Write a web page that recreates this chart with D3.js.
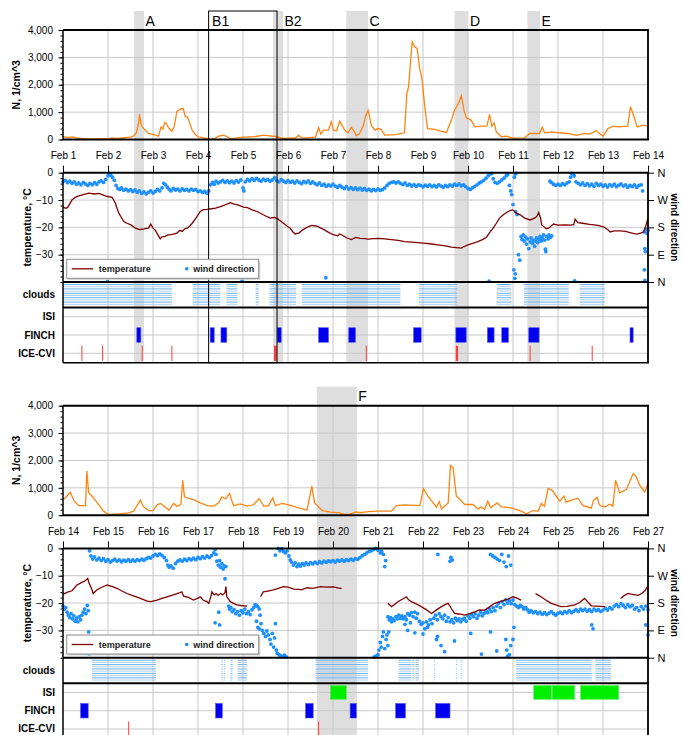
<!DOCTYPE html>
<html>
<head>
<meta charset="utf-8">
<script src="https://cdn.jsdelivr.net/npm/d3@7"></script>
<style>
  body { margin: 0; background: #fff; }
  text { font-family: "Liberation Sans", Arial, sans-serif; }
</style>
</head>
<body>
<div id="chart"></div>
<script>
// ---- data (day of February, value) ----
const n1 = [[1.0,100],[1.1,80],[1.22,95],[1.3,60],[1.45,30],[1.6,15],[1.83,20],[2.0,25],[2.1,60],[2.2,40],[2.3,55],[2.42,75],[2.5,90],[2.57,130],[2.63,250],[2.68,600],[2.70,920],[2.73,600],[2.76,460],[2.83,340],[2.9,220],[3.05,160],[3.12,120],[3.18,460],[3.22,380],[3.26,620],[3.3,560],[3.36,400],[3.42,300],[3.47,460],[3.53,1020],[3.6,1110],[3.67,1130],[3.72,830],[3.76,830],[3.8,680],[3.87,340],[3.95,160],[4.01,100],[4.12,60],[4.24,10],[4.35,20],[4.46,120],[4.57,160],[4.65,100],[4.73,25],[4.87,60],[5.0,90],[5.24,100],[5.46,160],[5.6,130],[5.76,100],[5.87,40],[6.05,50],[6.16,50],[6.24,150],[6.3,70],[6.38,60],[6.5,75],[6.61,90],[6.68,430],[6.73,200],[6.79,340],[6.9,340],[6.96,650],[7.01,340],[7.08,320],[7.15,670],[7.185,560],[7.26,340],[7.33,245],[7.41,440],[7.47,300],[7.52,135],[7.59,220],[7.67,490],[7.72,830],[7.78,1070],[7.85,525],[7.93,340],[8.0,400],[8.07,370],[8.15,160],[8.4,180],[8.59,245],[8.64,1680],[8.68,1930],[8.72,2780],[8.76,3570],[8.81,3390],[8.87,3330],[8.92,2660],[8.98,2170],[9.04,1200],[9.1,400],[9.26,370],[9.41,300],[9.52,260],[9.63,700],[9.70,1070],[9.79,1320],[9.85,1600],[9.91,1070],[9.96,800],[10.07,700],[10.15,460],[10.3,490],[10.42,490],[10.48,915],[10.53,490],[10.58,610],[10.63,280],[10.74,100],[10.85,120],[11.0,50],[11.26,60],[11.37,220],[11.59,220],[11.65,460],[11.7,245],[11.85,270],[12.22,220],[12.41,150],[12.6,220],[12.7,200],[12.85,320],[13.0,120],[13.11,400],[13.22,490],[13.33,460],[13.55,490],[13.61,1200],[13.69,830],[13.76,460],[13.89,525],[14.0,490]];

const n2 = [[14.0,570],[14.05,630],[14.16,840],[14.25,510],[14.35,350],[14.46,350],[14.5,350],[14.53,1610],[14.57,820],[14.68,630],[14.79,390],[14.9,150],[15.01,25],[15.24,50],[15.46,85],[15.57,150],[15.72,550],[15.78,330],[15.9,170],[16.0,170],[16.1,390],[16.17,430],[16.27,300],[16.35,180],[16.46,430],[16.53,330],[16.62,390],[16.66,1270],[16.7,670],[16.79,610],[16.9,570],[17.05,450],[17.2,350],[17.35,330],[17.46,450],[17.53,670],[17.61,600],[17.7,790],[17.79,350],[17.94,415],[18.09,330],[18.24,390],[18.36,610],[18.46,330],[18.57,350],[18.66,630],[18.72,350],[18.87,430],[19.01,380],[19.2,290],[19.42,180],[19.53,1060],[19.59,450],[19.68,300],[19.76,170],[19.94,110],[20.16,85],[20.185,50],[20.33,25],[20.52,120],[20.6,90],[20.78,130],[21.0,150],[21.3,150],[21.41,350],[21.59,380],[21.93,350],[22.01,970],[22.11,700],[22.3,290],[22.36,500],[22.41,230],[22.56,450],[22.61,1820],[22.67,1730],[22.74,700],[22.93,390],[23.11,390],[23.22,230],[23.3,300],[23.37,210],[23.44,510],[23.5,270],[23.65,450],[23.74,300],[23.96,270],[24.18,150],[24.3,50],[24.44,170],[24.56,150],[24.63,430],[24.7,330],[24.78,980],[24.87,910],[25.04,510],[25.13,700],[25.18,480],[25.3,550],[25.44,620],[25.56,350],[25.74,260],[25.79,550],[25.87,650],[25.92,370],[26.04,300],[26.15,400],[26.22,330],[26.28,1280],[26.37,820],[26.52,940],[26.67,1520],[26.74,1400],[26.81,1110],[26.93,840],[27.0,1180]];

const temp1 = [[1.0,-12.4],[1.05,-13],[1.1,-12.8],[1.15,-11.4],[1.2,-10],[1.27,-9],[1.35,-8.5],[1.45,-8],[1.57,-7.5],[1.7,-7.8],[1.8,-7.6],[1.94,-8.5],[2.02,-8.8],[2.09,-9],[2.16,-11],[2.2,-13],[2.24,-14.8],[2.3,-16.5],[2.35,-17.9],[2.42,-18.5],[2.5,-19],[2.61,-20.3],[2.7,-20.8],[2.76,-20.7],[2.85,-20.4],[2.9,-20.3],[2.95,-18.8],[3.0,-20.3],[3.05,-21],[3.1,-22.5],[3.16,-24.2],[3.2,-23.5],[3.27,-23.3],[3.33,-22.8],[3.39,-22.7],[3.45,-22.5],[3.53,-22.1],[3.6,-21.1],[3.65,-21.5],[3.7,-20.6],[3.76,-20.3],[3.82,-19.5],[3.87,-18.5],[3.93,-17.2],[3.98,-16],[4.05,-14.2],[4.12,-13.5],[4.2,-13.4],[4.3,-13.2],[4.39,-13],[4.5,-12.4],[4.6,-11.8],[4.72,-11],[4.8,-11.5],[4.88,-11.8],[5.01,-12.6],[5.1,-12.8],[5.2,-13.6],[5.31,-14.2],[5.45,-15.4],[5.55,-16.2],[5.61,-16.6],[5.7,-16.4],[5.76,-16.8],[5.82,-17.5],[5.9,-18.5],[6.0,-19.8],[6.05,-20.3],[6.1,-21.5],[6.16,-22.4],[6.25,-22],[6.32,-21],[6.39,-20.3],[6.47,-19.6],[6.53,-19.3],[6.63,-19.5],[6.72,-20.2],[6.83,-21.1],[6.92,-22],[7.01,-22.7],[7.1,-23.1],[7.15,-22.4],[7.19,-22.7],[7.3,-23.8],[7.41,-24.5],[7.5,-23.7],[7.6,-24],[7.7,-24.1],[7.78,-24.3],[7.9,-24.1],[8.0,-24],[8.15,-24.2],[8.3,-24.5],[8.45,-24.8],[8.59,-25.2],[8.75,-25.4],[9.0,-25.8],[9.15,-26],[9.33,-26.4],[9.5,-26.8],[9.63,-27.2],[9.75,-27.4],[9.85,-27.6],[9.92,-27],[10.0,-26.4],[10.1,-25.9],[10.22,-25.2],[10.32,-24.5],[10.41,-23.6],[10.5,-21.5],[10.56,-20.3],[10.63,-18.5],[10.7,-16.6],[10.8,-15.2],[10.89,-14.2],[10.95,-13.8],[11.0,-13.6],[11.07,-14.8],[11.16,-15.4],[11.26,-16.6],[11.38,-17.3],[11.48,-16.6],[11.53,-16],[11.57,-14.6],[11.61,-16.5],[11.64,-19.1],[11.74,-20.5],[11.79,-20.3],[11.9,-18.8],[12.0,-19.2],[12.15,-19.1],[12.27,-19.2],[12.35,-19],[12.38,-17],[12.44,-18.3],[12.55,-18.5],[12.7,-18.9],[12.89,-19.3],[13.01,-19.8],[13.1,-20.8],[13.16,-21.7],[13.25,-21.3],[13.38,-21.3],[13.5,-21.5],[13.62,-22],[13.75,-22.5],[13.85,-22],[13.9,-21.7],[13.95,-19.5],[14.0,-16.6]];

const temp2 = [[14.0,-16.8],[14.1,-16],[14.2,-15.5],[14.31,-13.4],[14.4,-12.6],[14.48,-12],[14.55,-11],[14.58,-12.8],[14.63,-14.5],[14.67,-16.5],[14.75,-15.2],[14.85,-14.3],[14.98,-13.4],[15.1,-14],[15.2,-14.6],[15.3,-15.5],[15.42,-16.5],[15.55,-17.3],[15.72,-18.3],[15.87,-19.3],[15.95,-19.5],[16.09,-18.9],[16.2,-18.3],[16.31,-17.7],[16.45,-17],[16.6,-16.2],[16.64,-15.9],[16.68,-17.5],[16.8,-18],[16.9,-18.9],[17.0,-18.2],[17.05,-17.7],[17.12,-19],[17.2,-19.5],[17.24,-20.1],[17.28,-18],[17.31,-15.9],[17.36,-17],[17.4,-16.5],[17.45,-17.2],[17.5,-16.5],[17.55,-17],[17.6,-16.2],[17.62,-14],[17.64,-17.7],[17.72,-19.5],[17.8,-20.2],[17.87,-20.7],[17.95,-20.9],[18.09,-21.1],[18.2,null],[18.39,-17.7],[18.45,-15.9],[18.55,-15.6],[18.68,-15.2],[18.8,-14.5],[18.9,-14],[19.0,-14.2],[19.13,-14.9],[19.25,-15],[19.3,-15.2],[19.42,-14.4],[19.55,-14.6],[19.72,-14],[19.85,-14.2],[20.01,-14.1],[20.16,-14.6],[20.19,-14.6],[20.7,null],[21.22,-20.1],[21.3,-21.3],[21.37,-20.5],[21.44,-19.5],[21.55,-18.5],[21.63,-17.7],[21.68,-18.8],[21.74,-19.5],[21.85,-20.3],[21.96,-21.3],[22.08,-22.5],[22.19,-23.8],[22.3,-22.5],[22.41,-21.3],[22.5,-20.5],[22.56,-20.1],[22.63,-22],[22.7,-23.8],[22.8,-24],[22.93,-24.4],[23.05,-23.8],[23.15,-23.2],[23.25,-22.5],[23.37,-22.6],[23.47,-21.5],[23.59,-20.1],[23.7,-19.6],[23.81,-18.9],[23.9,-18.5],[24.0,-17.7],[24.1,-18.3],[24.18,-18.9],[24.3,null],[24.5,-16.5],[24.55,-17],[24.62,-17.7],[24.72,-18.8],[24.85,-20.1],[24.95,-20.7],[25.07,-21.3],[25.2,-21.2],[25.37,-20.7],[25.48,-19.8],[25.59,-18.3],[25.66,-19.5],[25.74,-21],[25.85,-21.1],[25.95,-21.2],[26.04,-21.3],[26.2,null],[26.39,-18.3],[26.47,-17.3],[26.56,-16.5],[26.65,-16.8],[26.78,-17.2],[26.86,-16.5],[26.93,-15.5],[27.0,-13.7]];

// wind direction in degrees (0 = N at bottom, 360 = N at top)
const wind1 = [[1.00,330],[1.05,335],[1.10,327],[1.15,332],[1.20,325],[1.25,330],[1.30,322],[1.35,326],[1.40,320],[1.45,328],[1.50,323],[1.55,318],[1.60,325],[1.65,320],[1.70,327],[1.75,322],[1.80,330],[1.85,333],[1.90,328],[1.95,338],[2.00,350],[2.03,358],[2.06,352],[2.10,345],[2.14,335],[2.18,318],[2.22,308],[2.26,305],[2.30,310],[2.35,302],[2.40,306],[2.45,300],[2.50,304],[2.55,298],[2.60,303],[2.65,296],[2.70,300],[2.75,292],[2.80,297],[2.85,290],[2.90,296],[2.95,300],[3.00,293],[3.05,298],[3.10,305],[3.15,300],[3.20,310],[3.24,325],[3.28,320],[3.32,312],[3.36,305],[3.40,300],[3.45,308],[3.50,303],[3.55,306],[3.60,300],[3.65,307],[3.70,302],[3.75,305],[3.80,300],[3.85,306],[3.90,302],[3.95,305],[4.00,298],[4.05,300],[4.10,295],[4.15,298],[4.20,292],[4.24,300],[4.28,320],[4.32,328],[4.36,322],[4.40,332],[4.45,326],[4.50,330],[4.55,335],[4.60,328],[4.65,333],[4.70,327],[4.75,332],[4.80,326],[4.85,334],[4.90,329],[4.95,336],[5.00,310],[5.02,300],[5.05,330],[5.10,338],[5.15,333],[5.20,340],[5.25,335],[5.30,341],[5.35,336],[5.40,332],[5.45,339],[5.50,334],[5.55,338],[5.60,332],[5.65,336],[5.70,343],[5.75,334],[5.80,330],[5.85,337],[5.90,332],[5.95,328],[6.00,334],[6.05,328],[6.10,332],[6.15,326],[6.20,333],[6.25,328],[6.30,324],[6.35,331],[6.40,327],[6.45,333],[6.50,325],[6.55,330],[6.60,324],[6.65,320],[6.70,326],[6.75,318],[6.80,322],[6.85,315],[6.90,320],[6.95,316],[7.00,322],[7.05,316],[7.10,312],[7.15,318],[1.99,3],[4.98,5],[6.84,14],
  [7.20,312],[7.25,308],[7.30,314],[7.35,306],[7.40,311],[7.45,305],[7.50,310],[7.55,304],[7.60,309],[7.65,303],[7.70,308],[7.75,302],[7.80,306],[7.85,300],[7.90,305],[7.95,301],[8.00,307],[8.05,302],[8.10,304],[8.15,310],[8.20,318],[8.25,325],[8.30,328],[8.35,330],[8.40,326],[8.45,330],[8.50,325],[8.55,321],[8.60,326],[8.65,318],[8.70,322],[8.75,316],[8.80,321],[8.85,315],[8.90,320],[8.95,318],[9.00,313],[9.05,319],[9.10,315],[9.15,320],[9.20,314],[9.25,318],[9.30,313],[9.35,320],[9.40,316],[9.45,312],[9.50,318],[9.55,314],[9.60,320],[9.65,316],[9.70,322],[9.75,318],[9.80,323],[9.85,317],[9.90,320],[9.95,314],[10.00,308],[10.05,305],[10.10,310],[10.15,315],[10.20,320],[10.25,326],[10.30,330],[10.35,335],[10.40,342],[10.45,350],[10.50,356],[10.53,358],[10.56,340],[10.60,328],[10.65,325],[10.70,330],[10.75,336],[10.80,342],[10.85,350],[10.88,354],[10.92,318],[10.95,300],[10.97,288],[11.00,255],[11.03,345],[11.05,356],[11.07,358],[11.06,232],[11.09,222],[11.02,40],[11.05,27],[11.04,12],[11.12,90],[11.15,72],[10.47,3],[12.37,4],
  [11.18,150],[11.20,140],[11.23,155],[11.25,135],[11.28,148],[11.30,125],[11.32,142],[11.35,110],[11.38,132],[11.40,145],[11.43,128],[11.45,138],[11.48,118],[11.50,135],[11.52,145],[11.55,130],[11.58,140],[11.60,150],[11.63,135],[11.65,145],[11.68,155],[11.70,138],[11.72,108],[11.73,100],[11.75,150],[11.78,142],[11.80,155],[11.83,147],[11.86,152],
  [11.82,332],[11.85,328],[11.90,322],[11.95,318],[12.00,322],[12.05,318],[12.10,324],[12.15,320],[12.20,326],[12.25,330],[12.28,345],[12.30,358],[12.33,355],[12.36,350],[12.40,330],[12.45,325],[12.50,320],[12.55,326],[12.60,318],[12.65,324],[12.70,317],[12.75,322],[12.80,315],[12.85,325],[12.90,318],[12.95,322],[13.00,315],[13.05,320],[13.10,313],[13.15,321],[13.20,316],[13.25,322],[13.30,314],[13.35,319],[13.40,323],[13.45,316],[13.50,320],[13.55,312],[13.60,318],[13.65,314],[13.70,320],[13.75,312],[13.80,318],[13.85,320],[13.88,300],[13.92,165],[13.95,175],[13.98,160],[14.00,170],[13.93,110],[13.94,100],[13.92,40],[13.93,5]];

const wind2 = [[14.00,170],[14.03,160],[14.06,165],[14.09,150],[14.12,140],[14.15,132],[14.18,145],[14.21,128],[14.24,138],[14.27,120],[14.30,130],[14.33,118],[14.36,135],[14.39,125],[14.42,140],[14.45,150],[14.48,160],[14.51,145],[14.54,172],[14.56,155],[14.57,85],[14.58,12],[14.59,352],[14.62,335],[14.66,325],[14.70,332],[14.75,322],[14.80,328],[14.85,320],[14.90,326],[14.95,318],[15.00,323],[15.05,315],[15.10,320],[15.15,325],[15.20,318],[15.25,322],[15.30,316],[15.35,321],[15.40,318],[15.45,323],[15.50,317],[15.55,322],[15.60,318],[15.65,323],[15.70,320],[15.75,325],[15.80,321],[15.85,326],[15.90,330],[15.95,328],[16.00,335],[16.05,340],[16.10,336],[16.15,342],[16.20,337],[16.25,330],[16.30,320],[16.33,305],[16.36,298],[16.40,302],[16.45,295],[16.50,310],[16.55,318],[16.60,322],[16.65,318],[16.70,325],[16.75,320],[16.80,326],[16.85,322],[16.90,328],[16.95,323],[17.00,330],[17.05,326],[17.10,333],[17.15,328],[17.20,335],[17.25,330],[17.30,336],[17.35,345],[17.38,356],[17.40,340],[17.42,318],[17.45,305],[17.48,320],[17.50,298],[17.53,310],[17.56,292],[17.58,302],[17.60,260],[17.62,300],[17.38,115],[17.46,150],[17.48,108],
  [17.68,170],[17.70,160],[17.73,165],[17.76,152],[17.80,158],[17.84,145],[17.88,152],[17.92,140],[17.96,155],[18.00,148],[18.04,160],[18.08,145],[18.12,152],[18.16,142],[18.20,158],[18.24,165],[18.27,175],[18.30,172],[18.33,168],[18.36,160],[18.38,140],[18.30,120],[18.33,100],[18.36,95],[18.40,112],[18.43,90],[18.46,80],[18.50,70],[18.53,88],[18.56,75],[18.60,60],[18.62,45],[18.65,80],[18.68,35],[18.70,65],[18.72,112],[18.74,25],[18.76,14],[18.80,10],[18.84,6],[18.88,4],[18.92,8],[18.96,3],
  [18.72,338],[18.78,360],[18.82,352],[18.86,358],[18.90,350],[18.94,345],[18.98,352],[19.02,335],[19.05,322],[19.08,315],[19.12,305],[19.16,312],[19.20,300],[19.24,308],[19.28,302],[19.32,310],[19.36,305],[19.40,312],[19.45,307],[19.50,313],[19.55,309],[19.60,315],[19.65,310],[19.70,316],[19.75,312],[19.80,318],[19.85,314],[19.90,319],[19.95,316],[20.00,320],[20.05,315],[20.10,321],[20.15,318],[20.20,322],[20.25,318],[20.30,323],[20.35,320],[20.40,325],[20.45,321],[20.50,326],[20.55,324],[20.60,330],[20.65,336],[20.70,340],[20.75,345],[20.80,350],[20.85,352],[20.90,356],[20.95,360],[21.00,354],[21.05,345],[21.08,350],[21.12,340],[21.15,300],[21.17,320],
  [20.92,3],[20.95,5],[21.00,10],[21.02,25],[21.05,50],[21.07,35],[21.10,70],[21.12,85],
  [21.22,135],[21.25,125],[21.28,132],[21.30,118],[21.33,128],[21.36,122],[21.40,135],[21.43,128],[21.46,140],[21.50,130],[21.53,138],[21.56,128],[21.60,135],[21.63,125],[21.66,145],[21.70,140],[21.72,115],[21.74,148],[21.78,135],[21.82,150],[21.85,130],[21.88,145],[21.92,120],[21.96,110],[22.00,115],[22.04,95],[22.08,118],[22.12,108],[22.16,125],[22.20,112],[22.24,130],[22.28,140],[22.32,125],[22.36,145],[22.40,135],[22.44,128],[22.48,140],[22.52,120],[22.56,132],[22.60,118],[22.64,125],[22.68,115],[22.72,130],[22.76,122],[22.80,128],[22.84,118],[22.88,126],[22.92,130],[22.96,120],[23.00,138],[23.04,130],[23.08,142],[23.12,135],[23.16,145],[23.20,130],[23.24,140],[23.28,150],[23.32,138],[23.36,146],[23.40,155],[23.44,148],[23.48,160],[23.52,152],[23.56,165],[23.60,155],[23.64,170],[23.68,180],[23.72,165],[23.76,185],[23.80,175],[23.84,190],[23.88,180],[23.92,188],[23.96,178],[24.00,190],[24.04,175],[24.08,170],[24.12,165],[24.16,172],[24.20,168],[24.24,160],[24.28,165],[24.32,158],[24.36,150],[24.40,155],[24.45,148],[24.50,152],[24.55,145],[24.60,150],[24.65,143],[24.70,148],[24.75,142],[24.80,147],[24.85,152],[24.90,145],[24.95,140],[25.00,146],[25.05,150],[25.10,145],[25.15,152],[25.20,148],[25.25,155],[25.30,148],[25.35,153],[25.40,158],[25.45,152],[25.50,160],[25.55,155],[25.60,160],[25.65,153],[25.70,158],[25.75,152],[25.80,160],[25.85,155],[25.90,158],[25.95,152],[26.00,157],[26.05,163],[26.10,157],[26.15,165],[26.20,160],[26.25,170],[26.30,175],[26.35,168],[26.40,178],[26.45,172],[26.50,165],[26.55,175],[26.60,168],[26.65,172],[26.70,160],[26.75,165],[26.80,155],[26.85,168],[26.90,160],[26.95,170],[27.00,158],
  [21.24,85],[21.20,75],[21.18,60],[21.22,40],[21.15,30],[21.60,110],[21.66,90],[21.82,82],[22.00,78],[22.10,100],[22.30,60],[22.32,70],[22.40,40],[22.48,20],[22.70,55],[23.06,80],[23.30,12],[23.50,85],[23.64,22],[23.84,60],[23.86,25],[23.88,5],[23.92,10],[23.95,40],[24.00,60],[24.02,100],[25.75,108],[25.78,95],[26.95,108],[27.00,75],
  [22.33,340],[22.62,330],[22.65,322],[22.60,318],[23.50,340],[23.55,335],[23.60,330],[23.65,325],[23.70,320],[23.75,340],[23.80,315],[23.85,300],[23.90,335],[23.95,305]];

// observation periods [from, to]
const clouds1 = [[1.0,3.42],[3.88,4.5],[4.63,4.88],[5.28,5.35],[5.59,6.18],[6.31,8.5],[8.91,9.76],[10.64,10.96],[11.24,12.24],[12.48,13.04]];
const clouds2 = [[14.64,16.07],[17.52,17.55],[17.58,17.6],[17.72,17.77],[17.88,18.09],[19.61,20.78],[21.46,21.74],[21.76,21.8],[21.83,21.91],[22.24,22.25],[22.74,22.76],[22.85,22.87],[24.07,25.75],[25.83,26.18]];
const isi1 = [];
const isi2 = [[19.94,20.3],[24.46,24.85],[24.87,25.37],[25.5,26.35]];
const finch1 = [[2.64,2.73],[4.27,4.36],[4.51,4.64],[5.76,5.85],[6.68,6.9],[7.35,7.5],[8.79,8.96],[9.73,9.96],[10.43,10.58],[10.75,10.9],[11.35,11.58],[13.6,13.67]];
const finch2 = [[14.39,14.56],[17.39,17.54],[19.39,19.56],[20.38,20.52],[21.39,21.61],[22.28,22.6]];
const ice1 = [[1.42,1.42],[1.88,1.88],[2.76,2.76],[3.42,3.42],[5.70,5.76],[7.74,7.74],[9.74,9.79],[11.38,11.38],[12.76,12.76]];
const ice2 = [[15.46,15.46],[19.68,19.7]];

// case periods
const bandLabels1 = ["A","B2","C","D","E"];
const bandSpans1 = [[2.58,2.8],[5.667,5.889],[7.296,7.778],[9.70,10.01],[11.32,11.6]];
const boxLabels1 = ["B1"];
const boxSpans1 = [[4.236,5.756]];
const bandLabels2 = ["F"];
const bandSpans2 = [[19.64,20.53]];

const nTicks = [0,1000,2000,3000,4000];
const tempTicks = [0,-10,-20,-30];
const windTicks = [0,90,180,270,360];
const windTickLabels = ["N","E","S","W","N"];
const rowNames = ["ISI","FINCH","ICE-CVI"];

// ---- layout ----
const svgWidth = 682, svgHeight = 735;
const lay = {xL: 63, xR: 648, bandTop: 11, nTop: 30, nBot: 139.5, tTop: 172.7, tBot: 282, cBot: 307.5, iBot: 362.7};
const rowY = [316.7, 335, 353.3];
const gridColor = "#c8c8c8";

const svg = d3.select("#chart").append("svg")
  .attr("width", svgWidth)
  .attr("height", svgHeight);

function drawFigure(offset, f) {
  const g = svg.append("g").attr("transform", `translate(0, ${offset})`);
  const x = d3.scaleLinear().domain([f.start, f.start + 13]).range([lay.xL, lay.xR]);
  const yN = d3.scaleLinear().domain([0, 4000]).range([lay.nBot, lay.nTop]);
  const yT = d3.scaleLinear().domain([-40, 0]).range([lay.tBot, lay.tTop]);
  const yW = d3.scaleLinear().domain([0, 360]).range([lay.tBot, lay.tTop]);
  const days = d3.range(f.start, f.start + 14);

  // shaded case periods
  g.selectAll(".band").data(f.bandSpans).enter().append("rect")
    .attr("x", d => x(d[0]))
    .attr("width", d => x(d[1]) - x(d[0]))
    .attr("y", lay.bandTop)
    .attr("height", lay.iBot - lay.bandTop)
    .attr("fill", "#dedede");

  // grid
  const grid = g.append("g").attr("stroke", gridColor).attr("stroke-width", 1);
  days.slice(1, -1).forEach(d => {
    grid.append("line").attr("x1", x(d)).attr("x2", x(d)).attr("y1", lay.nTop).attr("y2", lay.nBot);
    grid.append("line").attr("x1", x(d)).attr("x2", x(d)).attr("y1", lay.tTop).attr("y2", lay.iBot);
  });
  [1000, 2000, 3000].forEach(v => grid.append("line").attr("x1", lay.xL).attr("x2", lay.xR).attr("y1", yN(v)).attr("y2", yN(v)));
  [-10, -20, -30].forEach(v => grid.append("line").attr("x1", lay.xL).attr("x2", lay.xR).attr("y1", yT(v)).attr("y2", yT(v)));
  rowY.forEach(y => grid.append("line").attr("x1", lay.xL).attr("x2", lay.xR).attr("y1", y).attr("y2", y));

  // clouds as stripes
  const stripes = d3.range(lay.tBot + 2.5, lay.cBot - 1.5, 2.2);
  const cg = g.append("g");
  f.clouds.forEach(c => {
    stripes.forEach((y, i) => {
      cg.append("line")
        .attr("x1", x(c[0])).attr("x2", Math.max(x(c[1]), x(c[0]) + 1))
        .attr("y1", y).attr("y2", y)
        .attr("stroke", i % 2 ? "#aad0f4" : "#6fb0ec")
        .attr("stroke-width", 1);
    });
  });

  // instruments
  g.selectAll(".isi").data(f.isi).enter().append("rect")
    .attr("x", d => x(d[0])).attr("width", d => x(d[1]) - x(d[0]))
    .attr("y", rowY[0] - 7).attr("height", 14)
    .attr("fill", "#00ee00").attr("stroke", "#66f066").attr("stroke-width", 0.6);
  g.selectAll(".finch").data(f.finch).enter().append("rect")
    .attr("x", d => x(d[0])).attr("width", d => x(d[1]) - x(d[0]))
    .attr("y", rowY[1] - 7.3).attr("height", 14.6)
    .attr("fill", "#0000ee").attr("stroke", "#5a5af0").attr("stroke-width", 0.6);
  g.selectAll(".ice").data(f.ice).enter().append("rect")
    .attr("x", d => x(d[0]) - 0.5).attr("width", d => Math.max(1, x(d[1]) - x(d[0])))
    .attr("y", rowY[2] - 7.6).attr("height", 15.2)
    .attr("fill", "#ff3a3a");

  // N
  const nLine = d3.line().x(d => x(d[0])).y(d => yN(d[1]));
  g.append("path").datum(f.n).attr("d", nLine)
    .attr("fill", "none").attr("stroke", "#ff8410").attr("stroke-width", 1.3);

  // wind direction
  g.append("g").selectAll("circle").data(f.wind).enter().append("circle")
    .attr("cx", d => x(d[0])).attr("cy", d => yW(d[1]))
    .attr("r", 1.9).attr("fill", "#1e90ff");

  // temperature
  const tLine = d3.line().defined(d => d[1] !== null).x(d => x(d[0])).y(d => yT(d[1]));
  g.append("path").datum(f.temp).attr("d", tLine)
    .attr("fill", "none").attr("stroke", "#800000").attr("stroke-width", 1.3);

  // axes
  const styleAxis = sel => {
    sel.selectAll("text").attr("font-family", "Liberation Sans, Arial, sans-serif").attr("font-size", 10).attr("fill", "#000");
    sel.selectAll("line").attr("stroke", "#000");
    sel.select(".domain").remove();
  };
  g.append("g").attr("transform", `translate(${lay.xL},0)`)
    .call(d3.axisLeft(yN).tickValues(d3.range(0, 4001, 200)).tickSize(2.5).tickFormat(""))
    .call(styleAxis);
  g.append("g").attr("transform", `translate(${lay.xL},0)`)
    .call(d3.axisLeft(yN).tickValues(nTicks).tickSize(4.5).tickPadding(5.5).tickFormat(d3.format(",")))
    .call(styleAxis);
  g.append("g").attr("transform", `translate(${lay.xL},0)`)
    .call(d3.axisLeft(yT).tickValues(d3.range(-40, 1, 2)).tickSize(2.5).tickFormat(""))
    .call(styleAxis);
  g.append("g").attr("transform", `translate(${lay.xL},0)`)
    .call(d3.axisLeft(yT).tickValues(tempTicks).tickSize(4.5).tickPadding(5.5))
    .call(styleAxis);
  g.append("g").attr("transform", `translate(${lay.xR},0)`)
    .call(d3.axisRight(yW).tickValues(windTicks).tickSize(6).tickPadding(3.5).tickFormat((d, i) => windTickLabels[i]))
    .call(styleAxis)
    .selectAll("text").attr("font-size", 11);
  g.append("g").attr("transform", `translate(0,${lay.nBot})`)
    .call(d3.axisBottom(x).tickValues(days).tickSize(0).tickPadding(12.5).tickFormat(d => "Feb " + d))
    .call(styleAxis);
  g.append("g").attr("transform", `translate(0,${lay.tTop})`)
    .call(d3.axisTop(x).tickValues(days).tickSize(7).tickFormat(""))
    .call(styleAxis);

  // frame
  const fr = g.append("g").attr("stroke", "#000");
  const hl = (y, w) => fr.append("line").attr("x1", lay.xL).attr("x2", lay.xR + 1).attr("y1", y).attr("y2", y).attr("stroke-width", w);
  const vl = (xx, y1, y2, w) => fr.append("line").attr("x1", xx).attr("x2", xx).attr("y1", y1).attr("y2", y2).attr("stroke-width", w);
  vl(lay.xL, lay.nTop, lay.nBot, 1.5);
  vl(lay.xR, lay.nTop, lay.nBot, 1.8);
  vl(lay.xL, lay.tTop, lay.iBot, 1.5);
  vl(lay.xR, lay.tTop, lay.iBot, 1.8);
  hl(lay.nTop, 2);
  hl(lay.nBot, 2);
  hl(lay.tTop, 2);
  hl(lay.tBot, 2);
  hl(lay.cBot, 2);
  hl(lay.iBot, 1.5);

  // case box
  g.selectAll(".box").data(f.boxSpans).enter().append("rect")
    .attr("x", d => x(d[0])).attr("width", d => x(d[1]) - x(d[0]))
    .attr("y", lay.bandTop).attr("height", lay.iBot - lay.bandTop)
    .attr("fill", "none").attr("stroke", "#000").attr("stroke-width", 1);

  // case labels
  f.bandSpans.forEach((s, i) => {
    g.append("text").attr("x", x(s[1]) + 1.5).attr("y", 25.5)
      .attr("font-size", 14).text(f.bandLabels[i]);
  });
  f.boxSpans.forEach((s, i) => {
    g.append("text").attr("x", x(s[0]) + 3.5).attr("y", 25.5)
      .attr("font-size", 14).text(f.boxLabels[i]);
  });

  // axis titles
  g.append("text").attr("transform", `translate(20,${(lay.nTop + lay.nBot) / 2}) rotate(-90)`)
    .attr("text-anchor", "middle").attr("font-size", 10.5).attr("font-weight", "bold").text("N, 1/cm^3");
  g.append("text").attr("transform", `translate(31,${(lay.tTop + lay.tBot) / 2}) rotate(-90)`)
    .attr("text-anchor", "middle").attr("font-size", 10.5).attr("font-weight", "bold").text("temperature, °C");
  g.append("text").attr("transform", `translate(671,${(lay.tTop + lay.tBot) / 2}) rotate(90)`)
    .attr("text-anchor", "middle").attr("font-size", 10).attr("font-weight", "bold").text("wind direction");
  g.append("text").attr("x", 55).attr("y", (lay.tBot + lay.cBot) / 2 + 3.5)
    .attr("text-anchor", "end").attr("font-size", 10).attr("font-weight", "bold").text("clouds");
  rowNames.forEach((r, i) => {
    g.append("text").attr("x", 55).attr("y", rowY[i] + 3.5)
      .attr("text-anchor", "end").attr("font-size", 10).attr("font-weight", "bold").text(r);
  });

  // legend
  const lg = g.append("g").attr("transform", "translate(66.7,259.3)");
  lg.append("rect").attr("x", 1.5).attr("y", 1.5).attr("width", 192).attr("height", 19).attr("fill", "#cfcfcf");
  lg.append("rect").attr("width", 192).attr("height", 19).attr("fill", "#fff").attr("stroke", "#8c8c8c").attr("stroke-width", 1);
  lg.append("line").attr("x1", 5).attr("x2", 26.5).attr("y1", 9.5).attr("y2", 9.5).attr("stroke", "#800000").attr("stroke-width", 1.3);
  lg.append("text").attr("x", 32).attr("y", 12.8).attr("font-size", 9).attr("font-weight", "bold").attr("fill", "#222").text("temperature");
  lg.append("circle").attr("cx", 120).attr("cy", 9.5).attr("r", 1.8).attr("fill", "#1e90ff");
  lg.append("text").attr("x", 126.5).attr("y", 12.8).attr("font-size", 9).attr("font-weight", "bold").attr("fill", "#222").text("wind direction");
}

drawFigure(0, {start: 1, n: n1, temp: temp1, wind: wind1, clouds: clouds1, isi: isi1, finch: finch1, ice: ice1,
  bandSpans: bandSpans1, bandLabels: bandLabels1, boxSpans: boxSpans1, boxLabels: boxLabels1});
drawFigure(375.7, {start: 14, n: n2, temp: temp2, wind: wind2, clouds: clouds2, isi: isi2, finch: finch2, ice: ice2,
  bandSpans: bandSpans2, bandLabels: bandLabels2, boxSpans: [], boxLabels: []});
</script>
</body>
</html>
